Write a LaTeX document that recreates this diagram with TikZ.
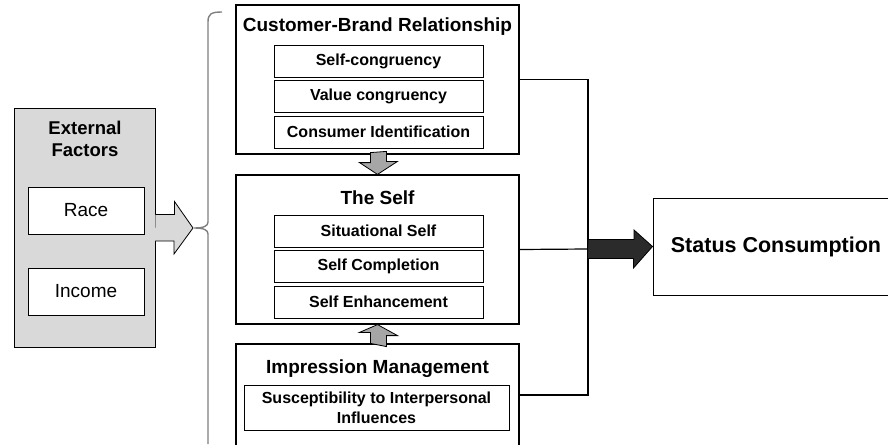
\documentclass[tikz,border=0pt]{standalone}
\usepackage{fontspec}
\setmainfont{Liberation Sans}
\tikzstyle{group} = [draw,line width=1.2pt,fill=white,minimum width=283pt,inner sep=0pt]
\tikzstyle{item} = [draw,line width=0.9pt,fill=white,minimum width=209pt,minimum height=32pt,inner sep=0pt,font=\fontsize{16}{18}\selectfont\bfseries]
\tikzstyle{title} = [font=\fontsize{19}{21}\selectfont\bfseries]
\tikzstyle{factor} = [draw,line width=0.9pt,fill=white,minimum width=116pt,minimum height=47pt,inner sep=0pt,font=\fontsize{19}{21}\selectfont]
\tikzstyle{blockarrow} = [draw,line width=0.8pt,line join=miter]
\definecolor{boxgray}{HTML}{D9D9D9}
\definecolor{arrowgray}{HTML}{A6A6A6}
\definecolor{bracegray}{HTML}{7F7F7F}
\definecolor{darkarrow}{HTML}{2B2B2B}

\begin{document}
\begin{tikzpicture}[x=1pt,y=-1pt]
\useasboundingbox (0,0) rectangle (888,444);
\clip (0,0) rectangle (888,444);

% left side
\node[draw,line width=1pt,fill=boxgray,minimum width=141pt,minimum height=239pt,inner sep=0pt] at (84.5,227.5) (ext) {};
\node[align=center,font=\fontsize{18.5}{22}\selectfont\bfseries] at (85,139) {External\\Factors};
\node[factor] at (86,210.5) (race) {Race};
\node[factor] at (86,291.5) (income) {Income};

% the three groups
\node[group,minimum height=149pt] at (377.5,79.5) (cbr) {};
\node[title] at (377.5,27) {Customer-Brand Relationship};
\node[item] at (378.5,61) (sc) {Self-congruency};
\node[item] at (378.5,96) (vc) {Value congruency};
\node[item] at (378.5,132) (ci) {Consumer Identification};

\node[group,minimum height=149pt] at (377.5,249.5) (self) {};
\node[title] at (377.5,198) {The Self};
\node[item] at (378.5,231) (ss) {Situational Self};
\node[item] at (378.5,266.5) (scomp) {Self Completion};
\node[item] at (378.5,302) (se) {Self Enhancement};

\node[group,minimum height=102pt] at (377.5,395) (imp) {};
\node[title] at (377.5,369) {Impression Management};
\node[item,minimum width=265pt,minimum height=45pt,align=center,font=\fontsize{16}{20}\selectfont\bfseries] at (376.5,407.5) (sip) {Susceptibility to Interpersonal\\Influences};

% result
\node[draw,line width=1pt,minimum width=246pt,minimum height=97pt,inner sep=0pt,font=\fontsize{21.5}{23}\selectfont\bfseries] at (776,246.5) (status) {Status Consumption};

% brace
\draw[bracegray,line width=1.4pt] (222,12) .. controls (211,12) and (208,14) .. (208,22)
	-- (208,222) .. controls (208,226) and (204,228) .. (194,228)
	.. controls (204,228) and (208,230) .. (208,234) -- (208,444);

% block arrows
\fill[boxgray] (ext.east) ++(0,-13) -- ++(19,0) -- ++(0,-13) -- (193,228) -- ++(-19,26) -- ++(0,-13) -- ++(-19,0) -- cycle;
\draw[blockarrow] (ext.east) ++(0,-13) -- ++(19,0) -- ++(0,-13) -- (193,228) -- ++(-19,26) -- ++(0,-13) -- ++(-19,0);
\draw[blockarrow,fill=arrowgray] (cbr.south) ++(-7,-2) -- ++(0,10) -- ++(-11,0) -- (self.north) -- ++(20,-13) -- ++(-11,0) -- ++(0,-10) -- cycle;
\draw[blockarrow,fill=arrowgray] (imp.north) ++(-7,0) -- ++(0,-11) -- ++(-11,0) -- (self.south) -- ++(20,11) -- ++(-11,0) -- ++(0,11) -- cycle;

% connectors
\coordinate (join) at (588,249);
\draw[line width=1.2pt] (cbr.east) -| (join);
\draw[line width=1.2pt] (self.east) -- (join);
\draw[line width=1.2pt] (imp.east) -| (join);
\draw[blockarrow,fill=darkarrow] (join) ++(0,-9.5) -- ++(46,0) -- ++(0,-9.5) -- (status.west) -- ++(-19,21.5) -- ++(0,-9.5) -- ++(-46,0) -- cycle;
\end{tikzpicture}
\end{document}
